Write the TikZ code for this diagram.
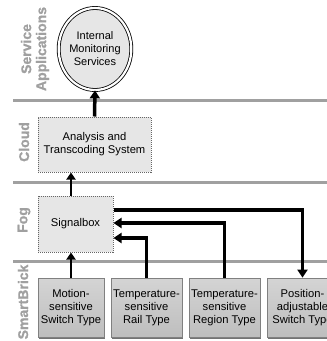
\documentclass[tikz,border=0pt]{standalone}
\usepackage{fontspec}
\setmainfont{Liberation Sans}
\newfontfamily\lblfont[FakeBold=1.2]{Liberation Sans Bold}
\usetikzlibrary{shapes.geometric,arrows.meta,shadows}
\definecolor{lbl}{HTML}{A0A0A0}
\definecolor{boxfill}{HTML}{E6E6E6}
\definecolor{brickA}{HTML}{D4D4D4}
\definecolor{brickB}{HTML}{BEBEBE}
\tikzset{
  layerline/.style={draw=lbl, line width=3pt},
  layerlabel/.style={text=lbl, font=\lblfont\fontsize{14}{16}\selectfont, rotate=90, align=center},
  dotbox/.style={rectangle, fill=boxfill, draw=black!60, densely dotted, line width=1pt, align=center,
    font=\fontsize{11.2}{13}\selectfont, inner sep=0pt},
  brick/.style={rectangle, top color=brickA, bottom color=brickB, draw=black!50, line width=0.8pt,
    minimum width=71pt, minimum height=59pt, align=center, inner sep=0pt,
    font=\fontsize{11.2}{13}\selectfont,
    drop shadow={shadow xshift=1pt, shadow yshift=-1.5pt, fill=black!55, opacity=1}},
  thickarrow/.style={line width=3.5pt, -{Triangle[length=8pt,width=10pt]}},
  thinarrow/.style={line width=2.2pt, -{Triangle[length=7pt,width=9pt]}},
}
\begin{document}
\begin{tikzpicture}[x=1pt,y=-1pt]
\useasboundingbox (0,0) rectangle (327,341);
% layer lines
\draw[layerline] (13,100) -- (327,100);
\draw[layerline] (13,182) -- (327,182);
\draw[layerline] (13,261) -- (327,261);
% layer labels
\node[layerlabel] (lserv) at (35,49) {Service\\[-1pt]Applications};
\node[layerlabel] (lcloud) at (24,142) {Cloud};
\node[layerlabel] (lfog) at (24,220) {Fog};
\node[layerlabel] (lsb) at (23,302) {SmartBrick};
% nodes
\node[ellipse, fill=boxfill, draw=black, line width=0.8pt, double=white, double distance=2.2pt,
  minimum width=64pt, minimum height=82pt, inner sep=0pt, align=center,
  font=\fontsize{11}{13}\selectfont] (ims) at (95,49) {Internal\\Monitoring\\Services};
\node[dotbox, minimum width=113pt, minimum height=55pt] (ana) at (94.5,144.5) {Analysis and\\Transcoding System};
\node[dotbox, minimum width=75pt, minimum height=56pt] (sig) at (75.5,224) {Signalbox};
\node[brick, minimum width=66pt] (b1) at (71,307.5) {Motion-\\sensitive\\Switch Type};
\node[brick] (b2) at (146.5,307.5) {Temperature-\\sensitive\\Rail Type};
\node[brick] (b3) at (224.5,307.5) {Temperature-\\sensitive\\Region Type};
\node[brick] (b4) at (302.5,307.5) {Position-\\adjustable\\Switch Type};
% connectors
\draw[thickarrow] (ana.north) -- (ims.south);
\draw[thinarrow] (b1.north |- sig.north) -- (b1.north |- ana.south);
\draw[thinarrow] (b1.north) -- (b1.north |- sig.south);
\draw[thickarrow] (b2.north) |- ([yshift=-14pt]sig.east);
\draw[thickarrow] (b3.north) |- ([yshift=1pt]sig.east);
\draw[thickarrow] ([yshift=14pt]sig.east) -| (b4.north);
\end{tikzpicture}
\end{document}
